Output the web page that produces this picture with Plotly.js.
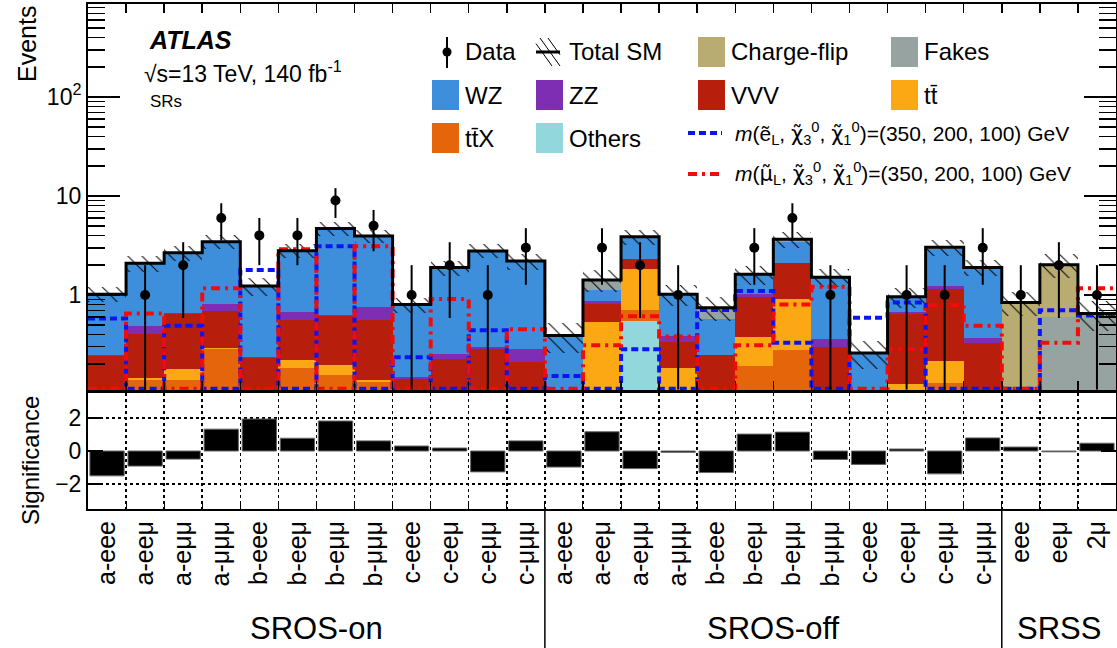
<!DOCTYPE html>
<html><head><meta charset="utf-8">
<script src="https://cdn.plot.ly/plotly-3.0.1.min.js"></script>
<style>html,body{margin:0;padding:0;background:#fff;overflow:hidden}#chart{width:1117px;height:648px}</style>
</head><body><div id="chart"></div>
<script>
// ---------------- data ----------------
const categories = ['a-eee','a-eeμ','a-eμμ','a-μμμ','b-eee','b-eeμ','b-eμμ','b-μμμ','c-eee','c-eeμ','c-eμμ','c-μμμ',
  'a-eee','a-eeμ','a-eμμ','a-μμμ','b-eee','b-eeμ','b-eμμ','b-μμμ','c-eee','c-eeμ','c-eμμ','c-μμμ',
  'eee','eeμ','2μ'];
const regions = ['SROS-on','SROS-off','SRSS'];
const regionSizes = [12,12,3];

const others     = [.01,.01,.01,.01,.01,.01,.01,.01,.01,.01,.01,.01, .005,.01,.54,.01,.01,.01,.01,.01,.005,.01,.01,.01, 0,0,0];
const ttX        = [.04,.13,.128,.275,.04,.174,.145,.123,.02,.03,.03,.03, .01,.01,.165,.01,.02,.183,.268,.03,.01,.01,.12,.02, 0,0,0];
const ttbar      = [.02,.005,.041,.005,.01,.036,.041,.005,.01,.01,.01,.01, .01,.51,1.115,.164,.01,.187,.632,.01,.01,.106,.086,.01, 0,0,0];
const vvv        = [.174,.255,.47,.40,.17,.34,.424,.422,.102,.176,.235,.162, .05,.29,.49,.149,.208,.58,1.18,.246,.05,.524,.924,.285, 0,0,0];
const zz         = [.006,.09,.01,.13,.005,.11,.01,.19,.005,.028,.015,.073, .005,.04,.01,.052,0,.06,.01,.061,.005,.03,.09,.04, 0,0,0];
const wz         = [.77,1.60,2.01,2.64,.995,2.13,4.07,3.19,.653,1.636,2.49,1.915, .31,.26,1.48,.635,.322,.60,1.36,1.153,.18,.28,1.70,1.535, 0,0,0];
const fakes      = [0,0,0,0,0,0,0,0,0,0,0,0, 0,.30,.08,0,.175,0,.19,0,0,0,.10,0, .03,.60,.65];
const chargeFlip = [0,0,0,0,0,0,0,0,0,0,0,0, 0,0,0,0,0,0,0,0,0,0,0,0, .81,1.42,0];
const totalErr   = [.18,.38,.45,.55,.25,.45,.75,.6,.14,.32,.45,.4, .13,.35,.7,.25,.2,.35,.65,.3,.08,.22,.55,.35, .22,.55,.22];

const dataObs    = [0,1,2,6,4,4,9,5,1,2,1,3, 0,3,2,1,0,3,6,1,0,1,1,3, 1,2,1];

const sigSel     = [.58,.05,.49,.05,1.79,.05,3.1,.05,.235,.05,.44,.05, .152,.05,.283,.05,.705,1.1,.33,.05,.59,.84,.05,.05, .05,.70,.62];
const sigSmu     = [.05,.65,.05,1.17,.05,2.9,.05,3.1,.05,.91,.05,.45, .05,.31,.61,.38,.05,.31,.80,1.21,.05,.283,.79,.49, .05,.33,1.17];

const significance = [-1.50,-0.91,-0.49,1.32,1.93,0.77,1.81,0.61,0.30,0.18,-1.26,0.61,
  -0.97,1.16,-1.06,-0.08,-1.30,1.02,1.14,-0.51,-0.81,0.12,-1.38,0.79, 0.24,-0.05,0.47];

// ---------------- setup ----------------
const FONT = 'Liberation Sans, Arial, Helvetica, sans-serif';
const N = categories.length;
const centers = categories.map((_, i) => i + 0.5);
const edges = Array.from({length: N + 1}, (_, i) => i);
const yLogMin = -0.96, yLogMax = 2.94;
const yMin = Math.pow(10, yLogMin);

const stackOrder = [
  {name: 'Others',      vals: others,     color: '#92D7DB'},
  {name: 'tt̄X',    vals: ttX,        color: '#E5650B'},
  {name: 'tt̄',     vals: ttbar,      color: '#FCA814'},
  {name: 'VVV',         vals: vvv,        color: '#B71F0C'},
  {name: 'ZZ',          vals: zz,         color: '#7E2EB2'},
  {name: 'WZ',          vals: wz,         color: '#3E8FDB'},
  {name: 'Fakes',       vals: fakes,      color: '#97A3A1'},
  {name: 'Charge-flip', vals: chargeFlip, color: '#B9AC73'}
];

// cumulative sums
const cum = [];
let run = new Array(N).fill(0);
stackOrder.forEach(c => { run = run.map((v, i) => v + c.vals[i]); cum.push(run.slice()); });
const total = cum[cum.length - 1];

const traces = [];
for (let k = stackOrder.length - 1; k >= 0; k--) {
  traces.push({type: 'bar', x: centers, y: cum[k], width: 1, xaxis: 'x', yaxis: 'y',
    marker: {color: stackOrder[k].color, line: {width: 0}}, hoverinfo: 'skip', showlegend: false});
}
// hatched uncertainty band
traces.push({type: 'bar', x: centers, base: total.map((t, i) => t - totalErr[i]), y: totalErr.map(e => 2 * e),
  width: 1, xaxis: 'x', yaxis: 'y', hoverinfo: 'skip', showlegend: false,
  marker: {color: 'rgba(0,0,0,0)', line: {width: 0},
    pattern: {shape: '\\', fgcolor: 'black', bgcolor: 'rgba(0,0,0,0)', size: 10, solidity: 0.1, fillmode: 'replace'}}});

const stepY = arr => arr.concat([arr[arr.length - 1]]).map(v => Math.max(v, yMin * 1.03));
traces.push({type: 'scatter', mode: 'lines', x: edges, y: stepY(sigSel), xaxis: 'x', yaxis: 'y',
  line: {shape: 'hv', color: '#0A14F5', width: 4, dash: '7px,4px'}, hoverinfo: 'skip', showlegend: false});
traces.push({type: 'scatter', mode: 'lines', x: edges, y: stepY(sigSmu), xaxis: 'x', yaxis: 'y',
  line: {shape: 'hv', color: '#F50A0A', width: 4, dash: '9px,5px,3px,5px'}, hoverinfo: 'skip', showlegend: false});
traces.push({type: 'scatter', mode: 'lines', x: edges, y: total.concat([total[N - 1]]), xaxis: 'x', yaxis: 'y',
  line: {shape: 'hv', color: 'black', width: 3}, hoverinfo: 'skip', showlegend: false});
// data
traces.push({type: 'scatter', mode: 'markers', x: centers, y: dataObs.map(d => d > 0 ? d : null),
  xaxis: 'x', yaxis: 'y', marker: {color: 'black', size: 10},
  error_y: {type: 'data', symmetric: false, array: dataObs.map(d => Math.sqrt(d)),
    arrayminus: dataObs.map(d => Math.min(Math.sqrt(d), d - yMin * 1.01)),
    color: 'black', thickness: 2, width: 0},
  hoverinfo: 'skip', showlegend: false});
// significance
traces.push({type: 'bar', x: centers, y: significance, width: 0.9, xaxis: 'x2', yaxis: 'y2',
  marker: {color: 'black', line: {color: '#666', width: 1}}, hoverinfo: 'skip', showlegend: false});

// ---------------- layout helpers ----------------
const L = 88, R = 1116, T = 4, B = 509;
const W = R - L, H = B - T;
const X = px => (px - L) / W;
const Y = py => (B - py) / H;

const minorLog = [];
[0.1, 1, 10, 100].forEach(d => { for (let m = 2; m <= 9; m++) minorLog.push(m * d); });

const annotations = [];
const shapes = [];
const ann = (text, px, py, size, opts) => annotations.push(Object.assign({
  text, x: X(px), y: Y(py), xref: 'paper', yref: 'paper', showarrow: false,
  xanchor: 'left', yanchor: 'middle', font: {family: FONT, size, color: 'black'}}, opts || {}));

ann('<b><i>ATLAS</i></b>', 147, 40, 25);
ann('√s=13 TeV, 140 fb<sup>-1</sup>', 142, 72, 23);
ann('SRs', 148, 102, 17);
ann('Events', 27, 4, 25, {textangle: -90, xanchor: 'center', yanchor: 'top'});
ann('Significance', 30, 461, 24, {textangle: -90, xanchor: 'center', yanchor: 'middle'});

// region labels and separators
let start = 0;
regions.forEach((r, j) => {
  annotations.push({text: r, x: start + regionSizes[j] / 2, xref: 'x2', y: Y(628), yref: 'paper',
    showarrow: false, xanchor: 'center', yanchor: 'middle', font: {family: FONT, size: 31, color: 'black'}});
  start += regionSizes[j];
  if (j < regions.length - 1) {
    shapes.push({type: 'line', xref: 'x2', yref: 'paper', x0: start, x1: start, y0: Y(B), y1: Y(648),
      line: {color: 'black', width: 1.5}});
  }
});

// legend (manual)
const LF = 24;
const box = (x0, yc, color) => shapes.push({type: 'rect', xref: 'paper', yref: 'paper',
  x0: X(x0), x1: X(x0 + 27), y0: Y(yc + 15), y1: Y(yc - 15), fillcolor: color, line: {width: 0}});
const col = {c1: 432, c2: 536, c3: 698, c4: 891};
const rows = {r1: 52, r2: 95, r3: 138};
const colorOf = n => stackOrder.find(s => s.name === n).color;
const legItems = [
  ['Charge-flip', 'c3', 'r1'], ['Fakes', 'c4', 'r1'],
  ['WZ', 'c1', 'r2'], ['ZZ', 'c2', 'r2'], ['VVV', 'c3', 'r2'], ['tt̄', 'c4', 'r2'],
  ['tt̄X', 'c1', 'r3'], ['Others', 'c2', 'r3']
];
legItems.forEach(([n, c, r]) => { box(col[c], rows[r], colorOf(n)); ann(n, col[c] + 31, rows[r], LF); });
// Data
shapes.push({type: 'line', xref: 'paper', yref: 'paper', x0: X(447), x1: X(447), y0: Y(37), y1: Y(68), line: {color: 'black', width: 2}});
shapes.push({type: 'circle', xref: 'paper', yref: 'paper', x0: X(442.5), x1: X(451.5), y0: Y(47.5), y1: Y(56.5), fillcolor: 'black', line: {width: 0}});
ann('Data', 463, 52, LF);
// Total SM
[-8, 0, 8].forEach(o => {
  const xa = Math.max(536, 540 + o), xb = Math.min(560, 560 + o);
  shapes.push({type: 'line', xref: 'paper', yref: 'paper',
    x0: X(xa), y0: Y(38 + (xa - 540 - o) * 28 / 20), x1: X(xb), y1: Y(38 + (xb - 540 - o) * 28 / 20),
    line: {color: 'black', width: 1}});
});
shapes.push({type: 'line', xref: 'paper', yref: 'paper', x0: X(536), x1: X(560), y0: Y(52), y1: Y(52), line: {color: 'black', width: 3}});
ann('Total SM', 567, 52, LF);
// signals
const chi = '<span style="font-family:DejaVu Sans">χ̃</span>';
const smu = '<span style="font-family:DejaVu Sans">μ̃</span>';
shapes.push({type: 'line', xref: 'paper', yref: 'paper', x0: X(688), x1: X(722), y0: Y(133), y1: Y(133), line: {color: '#0A14F5', width: 4, dash: '7px,4px'}});
shapes.push({type: 'line', xref: 'paper', yref: 'paper', x0: X(688), x1: X(722), y0: Y(174), y1: Y(174), line: {color: '#F50A0A', width: 4, dash: '9px,5px,3px,5px'}});
ann('<i>m</i>(ẽ<sub>L</sub>, ' + chi + '<sub>3</sub><sup>0</sup>, ' + chi + '<sub>1</sub><sup>0</sup>)=(350, 200, 100) GeV', 733, 133, 21);
ann('<i>m</i>(' + smu + '<sub>L</sub>, ' + chi + '<sub>3</sub><sup>0</sup>, ' + chi + '<sub>1</sub><sup>0</sup>)=(350, 200, 100) GeV', 733, 174, 21);

const axBase = {showline: true, linecolor: 'black', linewidth: 2, showgrid: false, zeroline: false,
  tickcolor: 'black', tickwidth: 1.5, tickfont: {family: FONT, size: 23, color: 'black'}};

const layout = {
  width: 1117, height: 648, paper_bgcolor: 'white', plot_bgcolor: 'white',
  margin: {l: L, r: 1117 - R, t: T, b: 648 - B},
  barmode: 'overlay', bargap: 0, showlegend: false,
  font: {family: FONT, color: 'black'},
  xaxis: Object.assign({}, axBase, {domain: [0, 1], range: [0, N], anchor: 'y', tickmode: 'array', tickvals: edges,
    showticklabels: false, ticks: 'inside', ticklen: 9, mirror: 'ticks'}),
  yaxis: Object.assign({}, axBase, {domain: [Y(390), 1], type: 'log', range: [yLogMin, yLogMax], anchor: 'x',
    tickmode: 'array', tickvals: [1, 10, 100], ticktext: ['1', '10', '10<sup>2</sup>'],
    ticks: 'inside', ticklen: 32, mirror: 'ticks',
    minor: {tickmode: 'array', tickvals: minorLog, ticks: 'inside', ticklen: 17, tickwidth: 1.5, tickcolor: 'black', showgrid: false}}),
  xaxis2: Object.assign({}, axBase, {domain: [0, 1], range: [0, N], anchor: 'y2', tickmode: 'array', tickvals: centers,
    ticktext: categories, tickangle: -90, ticks: '', mirror: true, tickfont: {family: FONT, size: 25, color: 'black'},
    minor: {tickmode: 'array', tickvals: edges.slice(1, N), ticks: 'inside', ticklen: 6, tickcolor: 'black',
      showgrid: true, gridcolor: 'black', griddash: 'dot', gridwidth: 1.5}}),
  yaxis2: Object.assign({}, axBase, {domain: [0, Y(393)], range: [-3.5, 3.5], anchor: 'x2',
    tickmode: 'array', tickvals: [-2, 0, 2], ticktext: ['−2', '0', '2'], ticks: 'inside', ticklen: 15, mirror: 'ticks',
    minor: {tickmode: 'array', tickvals: [-2, 2], ticks: '', showgrid: true, gridcolor: 'black', griddash: 'dot', gridwidth: 1.5}}),
  annotations, shapes
};

Plotly.newPlot('chart', traces, layout, {displayModeBar: false, staticPlot: true});
</script></body></html>
